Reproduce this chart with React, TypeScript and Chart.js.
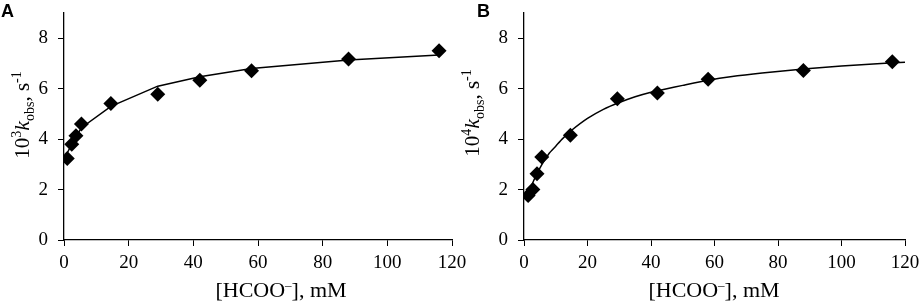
import React, { useEffect, useRef } from "react";
import { Chart, registerables } from "chart.js";
Chart.register(...registerables);

// Panel A data
const concA = [1.0, 2.4, 3.7, 5.4, 14.5, 29, 42, 58, 88, 116];
const kobsA = [3.23, 3.8, 4.13, 4.6, 5.41, 5.78, 6.33, 6.71, 7.18, 7.5];
const fitConcA = [1.0, 2.4, 3.7, 5.4, 14.5, 29, 42, 58, 88, 116];
const fitA = [3.45, 3.8, 4.1, 4.45, 5.3, 6.1, 6.47, 6.8, 7.14, 7.33];

// Panel B data
const concB = [1.3, 2.8, 4.1, 5.6, 14.6, 29.4, 42, 58, 88, 116];
const kobsB = [1.76, 2.0, 2.63, 3.29, 4.15, 5.6, 5.83, 6.37, 6.72, 7.07];
const fitConcB = [1, 2, 3, 4, 5, 6, 8, 10, 12, 15, 20, 25, 30, 35, 40, 45, 50, 58, 65, 75, 88, 100, 110, 120];
const fitB = [1.74, 2.05, 2.34, 2.6, 2.85, 3.07, 3.45, 3.72, 4.0, 4.35, 4.82, 5.18, 5.45, 5.68, 5.86, 6.0, 6.13, 6.33, 6.47, 6.62, 6.78, 6.9, 6.98, 7.05];

const xTickValues = [0, 20, 40, 60, 80, 100, 120];
const yTickValues = [0, 2, 4, 6, 8];

const SERIF = '"Liberation Serif", "Times New Roman", serif';

type Seg = { t: string; size: number; italic?: boolean; dy: number };

function drawRich(ctx: CanvasRenderingContext2D, segs: Seg[], x: number, y: number, rotate: boolean) {
  ctx.save();
  ctx.translate(x, y);
  if (rotate) ctx.rotate(-Math.PI / 2);
  ctx.fillStyle = "#000";
  ctx.textBaseline = "alphabetic";
  ctx.textAlign = "left";
  let total = 0;
  const widths: number[] = [];
  for (const s of segs) {
    ctx.font = `${s.italic ? "italic " : ""}${s.size}px ${SERIF}`;
    const w = ctx.measureText(s.t).width;
    widths.push(w);
    total += w;
  }
  let cx = -total / 2;
  segs.forEach((s, i) => {
    ctx.font = `${s.italic ? "italic " : ""}${s.size}px ${SERIF}`;
    ctx.fillText(s.t, cx, s.dy);
    cx += widths[i];
  });
  ctx.restore();
}

type PanelCfg = {
  letter: string;
  letterX: number;
  exp: string;
  yTitleX: number;
  yTitleY: number;
  xTitleX: number;
  xTitleY: number;
};

function titlesPlugin(cfg: PanelCfg) {
  return {
    id: "titles" + cfg.letter,
    afterDraw(chart: any) {
      const ctx: CanvasRenderingContext2D = chart.ctx;
      ctx.save();
      ctx.fillStyle = "#000";
      ctx.font = `bold 18px "Liberation Sans", Arial, sans-serif`;
      ctx.textBaseline = "alphabetic";
      ctx.textAlign = "left";
      ctx.fillText(cfg.letter, cfg.letterX, 17);
      ctx.restore();
      drawRich(
        ctx,
        [
          { t: "10", size: 21, dy: 0 },
          { t: cfg.exp, size: 14, dy: -8 },
          { t: "k", size: 22, italic: true, dy: 0 },
          { t: "obs", size: 14, dy: 5 },
          { t: ", s", size: 21, dy: 0 },
          { t: "-1", size: 14, dy: -8 },
        ],
        cfg.yTitleX,
        cfg.yTitleY,
        true
      );
      drawRich(
        ctx,
        [
          { t: "[HCOO", size: 22, dy: 0 },
          { t: "\u2013", size: 13, dy: -8 },
          { t: "], mM", size: 22, dy: 0 },
        ],
        cfg.xTitleX,
        cfg.xTitleY,
        false
      );
    },
  };
}

function Panel(props: {
  left: number;
  width: number;
  rightPad: number;
  tension: number;
  conc: number[];
  kobs: number[];
  fitConc: number[];
  fit: number[];
  cfg: PanelCfg;
}) {
  const ref = useRef<HTMLCanvasElement | null>(null);
  useEffect(() => {
    if (!ref.current) return;
    const pts = props.conc.map((x, i) => ({ x, y: props.kobs[i] }));
    const line = props.fitConc.map((x, i) => ({ x, y: props.fit[i] }));
    const chart = new Chart(ref.current, {
      type: "scatter",
      data: {
        datasets: [
          {
            data: line,
            showLine: true,
            borderColor: "#000",
            borderWidth: 1.5,
            pointRadius: 0,
            tension: props.tension,
            order: 2,
          },
          {
            data: pts,
            showLine: false,
            pointStyle: "rectRot",
            pointRadius: 7.5,
            backgroundColor: "#000",
            borderColor: "#000",
            borderWidth: 0,
            order: 1,
          },
        ],
      },
      plugins: [titlesPlugin(props.cfg)],
      options: {
        responsive: false,
        animation: false,
        events: [],
        layout: { autoPadding: false, padding: { left: 0, top: 13, right: props.rightPad, bottom: 0 } },
        plugins: { legend: { display: false }, tooltip: { enabled: false } },
        scales: {
          x: {
            type: "linear",
            min: 0,
            max: 120,
            afterBuildTicks: (s: any) => {
              s.ticks = xTickValues.map((v) => ({ value: v }));
            },
            afterFit: (s: any) => {
              s.height = 64;
              s.paddingLeft = 0;
              s.paddingRight = 0;
              s.paddingTop = 0;
              s.paddingBottom = 0;
            },
            ticks: {
              color: "#000",
              font: { family: SERIF, size: 19 },
              padding: 6,
              maxRotation: 0,
            },
            grid: {
              display: true,
              drawOnChartArea: false,
              drawTicks: true,
              tickLength: 6,
              color: "#000",
              lineWidth: 1,
            },
            border: { display: true, color: "#000", width: 1.3 },
          },
          y: {
            type: "linear",
            min: 0,
            max: 9,
            afterBuildTicks: (s: any) => {
              s.ticks = yTickValues.map((v) => ({ value: v }));
            },
            afterFit: (s: any) => {
              s.width = 64;
              s.paddingLeft = 0;
              s.paddingRight = 0;
              s.paddingTop = 0;
              s.paddingBottom = 0;
            },
            ticks: {
              color: "#000",
              font: { family: SERIF, size: 19 },
              padding: 10,
            },
            grid: {
              display: true,
              drawOnChartArea: false,
              drawTicks: true,
              tickLength: 6,
              color: "#000",
              lineWidth: 1,
            },
            border: { display: true, color: "#000", width: 1.3 },
          },
        },
      },
    } as any);
    return () => chart.destroy();
  }, []);
  return (
    <canvas
      ref={ref}
      width={props.width}
      height={304}
      style={{ position: "absolute", left: props.left, top: 0, width: props.width, height: 304, display: "block" }}
    />
  );
}

export default function App() {
  return (
    <div style={{ position: "absolute", left: 0, top: 0, width: 920, height: 304, background: "#fff", overflow: "hidden" }}>
      <Panel
        left={0}
        width={470}
        rightPad={18}
        tension={0}
        conc={concA}
        kobs={kobsA}
        fitConc={fitConcA}
        fit={fitA}
        cfg={{ letter: "A", letterX: 1, exp: "3", yTitleX: 29, yTitleY: 115, xTitleX: 281, xTitleY: 297 }}
      />
      <Panel
        left={460}
        width={460}
        rightPad={15}
        tension={0.2}
        conc={concB}
        kobs={kobsB}
        fitConc={fitConcB}
        fit={fitB}
        cfg={{ letter: "B", letterX: 17, exp: "4", yTitleX: 19, yTitleY: 113, xTitleX: 254, xTitleY: 297 }}
      />
    </div>
  );
}
